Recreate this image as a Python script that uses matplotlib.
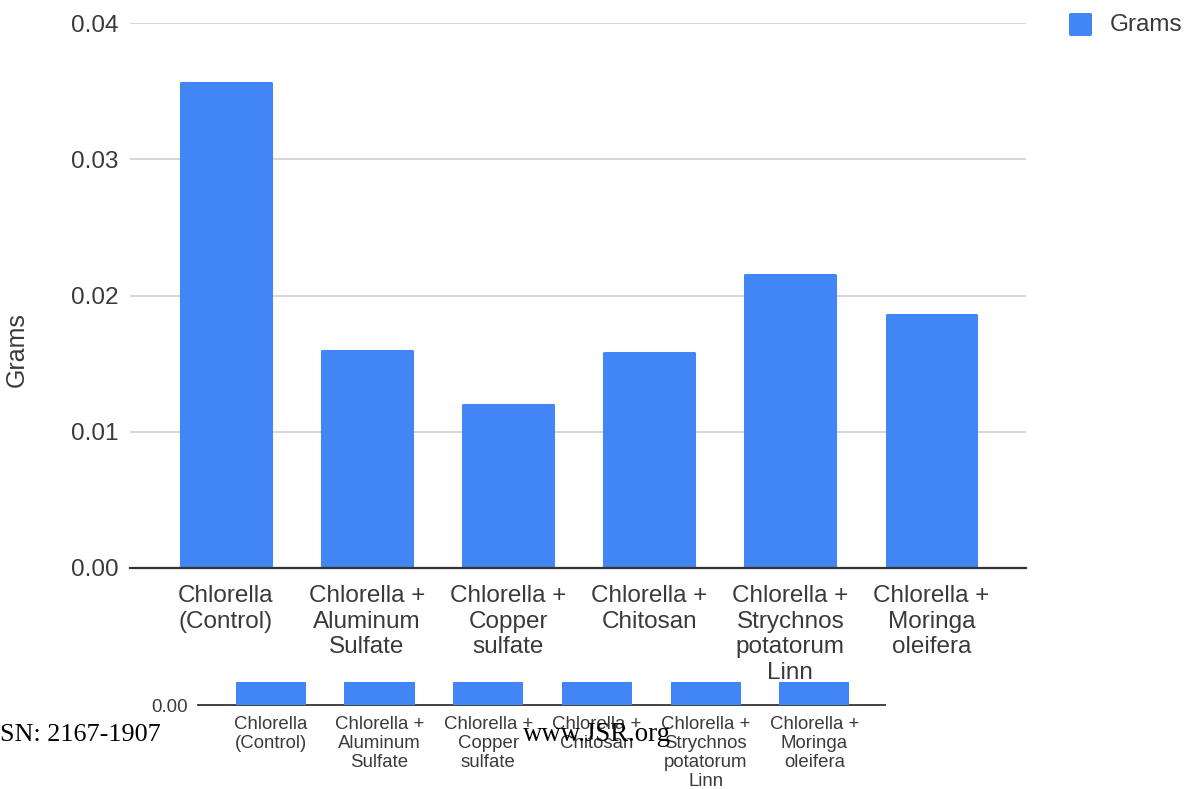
import matplotlib
matplotlib.use("Agg")
import matplotlib.pyplot as plt
from matplotlib.patches import Rectangle, FancyBboxPatch

plt.rcParams['font.family'] = ['Liberation Sans', 'DejaVu Sans']

categories = [
    "Chlorella\n(Control)",
    "Chlorella +\nAluminum\nSulfate",
    "Chlorella +\nCopper\nsulfate",
    "Chlorella +\nChitosan",
    "Chlorella +\nStrychnos\npotatorum\nLinn",
    "Chlorella +\nMoringa\noleifera",
]
grams = [0.0356, 0.0159, 0.0120, 0.0158, 0.0215, 0.0186]
y_ticks = [0.00, 0.01, 0.02, 0.03, 0.04]
series_name = "Grams"

BLUE = "#4285F4"
TEXT = "#3a3a3a"
GRID = "#cccccc"

W, H = 1193, 789
fig = plt.figure(figsize=(W / 100, H / 100), dpi=100)
fig.patch.set_facecolor("white")


def px_rect(left, top, right, bottom):
    return [left / W, 1 - bottom / H, (right - left) / W, (bottom - top) / H]


# ---- main chart ----
ax = fig.add_axes(px_rect(130, 23, 1026, 568))
xs = list(range(len(categories)))
ax.set_xlim(-0.68, 5.67)
ax.set_ylim(0, 0.04)
# a same-coloured edge with round joins gives the soft bar corners
ax.bar(xs, grams, width=0.637, color=BLUE, edgecolor=BLUE, linewidth=2.2,
       joinstyle="round", zorder=3)

ax.set_yticks(y_ticks)
ax.set_yticklabels([f"{t:.2f}" for t in y_ticks])
ax.yaxis.grid(True, color=GRID, linewidth=1.1, zorder=0)
ax.set_axisbelow(True)
ax.set_xticks(xs)
ax.set_xticklabels(categories, linespacing=1.23, va="top")
ax.tick_params(axis="x", length=0, pad=12, labelsize=17.5, labelcolor=TEXT)
ax.tick_params(axis="y", length=0, pad=8.5, labelsize=17.5, labelcolor=TEXT)
for s in ["top", "right", "left"]:
    ax.spines[s].set_visible(False)
ax.spines["bottom"].set_color("#333333")
ax.spines["bottom"].set_linewidth(1.6)
ax.spines["bottom"].set_zorder(4)

fig.text(17 / W, 1 - 350 / H, series_name, rotation=90, ha="center", va="center",
         fontsize=18, color=TEXT)

# legend
fig.patches.append(FancyBboxPatch((1069 / W, 1 - 36 / H), 23 / W, 23 / H,
                                  boxstyle="round,pad=0,rounding_size=0.002",
                                  transform=fig.transFigure, facecolor=BLUE,
                                  edgecolor="none", zorder=1))
fig.text(1110 / W, 1 - 25 / H, series_name, ha="left", va="center",
         fontsize=17.5, color=TEXT)

# ---- lower panel, drawn over the lower strip of the page ----
cover = Rectangle((0, 0), 1, 1 - 682 / H, transform=fig.transFigure,
                  facecolor="white", edgecolor="none", zorder=2)
fig.patches.append(cover)

ax2 = fig.add_axes(px_rect(198, 682, 885, 705), zorder=3)
ax2.patch.set_alpha(0)
ax2.set_xlim(-0.67, 5.65)
ax2.set_ylim(0, 0.0022)
ax2.bar(xs, grams, width=0.645, color=BLUE, zorder=3)
ax2.set_yticks([0.0])
ax2.set_yticklabels(["0.00"])
ax2.set_xticks(xs)
ax2.set_xticklabels(categories, linespacing=1.14, va="top")
ax2.tick_params(axis="x", length=0, pad=8, labelsize=13.4, labelcolor=TEXT)
ax2.tick_params(axis="y", length=0, pad=7, labelsize=13.4, labelcolor=TEXT)
for s in ["top", "right", "left"]:
    ax2.spines[s].set_visible(False)
ax2.spines["bottom"].set_color("#333333")
ax2.spines["bottom"].set_linewidth(1.3)

# page footer
serif = ["Liberation Serif", "DejaVu Serif"]
fig.text(0, 1 - 741 / H, "SN: 2167-1907", ha="left", va="baseline",
         fontsize=18.8, family=serif, color="black", zorder=5)
fig.text(523 / W, 1 - 741 / H, "www.JSR.org", ha="left", va="baseline",
         fontsize=19.3, family=serif, color="black", zorder=5)

fig.savefig("out.png", dpi=100, facecolor="white")
